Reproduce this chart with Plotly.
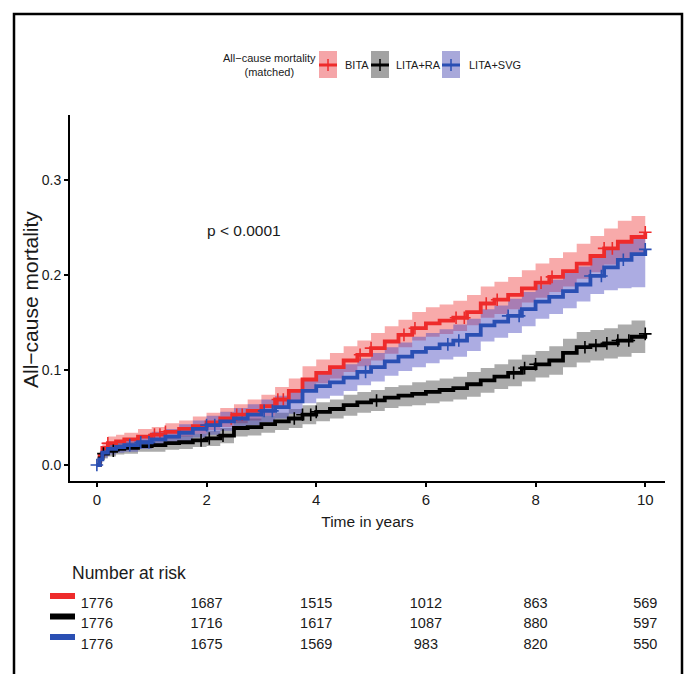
import plotly.graph_objects as go

# ---------------- data ----------------
times = [0, 0.05, 0.1, 0.2, 0.35, 0.5, 0.75, 1.0, 1.25, 1.5, 1.75, 2.0, 2.25, 2.5, 2.75,
         3.0, 3.25, 3.5, 3.75, 4.0, 4.25, 4.5, 4.75, 5.0, 5.25, 5.5, 5.75, 6.0, 6.25, 6.5,
         6.75, 7.0, 7.25, 7.5, 7.75, 8.0, 8.25, 8.5, 8.75, 9.0, 9.25, 9.5, 9.75, 10.0]

bita_est = [0, .010, .018, .023, .025, .027, .030, .032, .035, .038, .041, .045, .049, .053, .057,
            .062, .069, .078, .090, .097, .103, .110, .116, .123, .130, .137, .144, .149, .152, .155,
            .161, .170, .174, .179, .186, .192, .198, .204, .212, .220, .228, .235, .240, .245]
bita_lo = [0, .006, .013, .017, .019, .021, .023, .025, .028, .030, .033, .037, .040, .044, .047,
           .052, .059, .067, .079, .086, .091, .098, .104, .110, .117, .124, .131, .135, .138, .141,
           .147, .155, .159, .164, .171, .176, .182, .188, .196, .203, .211, .218, .223, .228]
bita_hi = [0, .014, .024, .030, .032, .034, .038, .040, .044, .047, .051, .055, .060, .064, .069,
           .074, .082, .091, .104, .111, .118, .125, .131, .139, .146, .153, .161, .166, .169, .173,
           .179, .188, .193, .198, .205, .212, .218, .224, .233, .241, .249, .257, .262, .267]

ra_est = [0, .007, .012, .015, .017, .018, .020, .021, .023, .024, .026, .028, .031, .039, .040,
          .043, .046, .049, .053, .056, .059, .063, .066, .068, .071, .073, .075, .077, .079, .081,
          .085, .089, .093, .097, .102, .106, .110, .118, .124, .126, .128, .131, .135, .138]
ra_lo = [0, .003, .007, .009, .011, .012, .014, .014, .016, .017, .019, .020, .023, .030, .031,
         .034, .037, .039, .043, .046, .049, .052, .055, .057, .060, .062, .063, .065, .067, .069,
         .072, .076, .080, .083, .088, .092, .095, .103, .108, .110, .112, .114, .118, .121]
ra_hi = [0, .011, .017, .021, .023, .024, .026, .028, .030, .031, .033, .036, .039, .048, .049,
         .052, .055, .059, .063, .066, .069, .074, .077, .079, .082, .084, .087, .089, .091, .093,
         .098, .102, .106, .111, .116, .120, .125, .133, .140, .142, .144, .148, .152, .155]

svg_est = [0, .006, .013, .017, .019, .021, .024, .027, .030, .034, .038, .042, .046, .049, .053,
           .057, .061, .067, .078, .083, .087, .092, .098, .103, .109, .114, .119, .123, .127, .131,
           .137, .147, .151, .157, .164, .172, .177, .183, .190, .199, .208, .216, .222, .227]
svg_lo = [0, .002, .008, .011, .013, .014, .017, .019, .022, .025, .029, .032, .036, .038, .042,
          .045, .049, .054, .065, .070, .073, .078, .084, .088, .094, .099, .103, .107, .111, .114,
          .120, .130, .134, .139, .146, .154, .159, .165, .172, .180, .184, .186, .187, .188]
svg_hi = [0, .010, .018, .023, .025, .028, .031, .035, .038, .043, .047, .052, .056, .060, .064,
          .069, .073, .080, .091, .096, .101, .106, .112, .118, .124, .129, .135, .139, .143, .148,
          .154, .164, .168, .175, .182, .190, .195, .202, .209, .218, .227, .236, .242, .247]

# censoring times (the "+" marks on the curves)
bita_censor = [0.2, 1.05, 1.15, 1.25, 2.45, 2.55, 2.65, 3.3, 3.4, 4.8, 5.0, 5.6, 5.8, 6.55, 6.7,
               7.1, 7.3, 8.1, 8.3, 9.25, 9.4, 10.0]
ra_censor = [0.12, 0.3, 1.9, 2.05, 2.3, 3.6, 3.75, 3.9, 4.0, 5.1, 7.6, 7.8, 8.0, 8.9, 9.1, 9.3,
             9.5, 9.7, 10.0]
svg_censor = [0.0, 0.6, 0.8, 0.95, 2.0, 2.15, 3.05, 3.2, 4.9, 6.4, 6.6, 7.5, 7.7, 9.0, 9.2,
              9.6, 10.0]

group_names = ["BITA", "LITA+RA", "LITA+SVG"]
line_colors = ["#EE2B2B", "#000000", "#2A4FB3"]
band_colors = ["rgba(238,43,43,0.40)", "rgba(0,0,0,0.33)", "rgba(70,70,190,0.45)"]
key_colors = ["#F5A5A8", "#A3A3A3", "#A8A8DA"]

risk_times = [0, 2, 4, 6, 8, 10]
risk_bita = [1776, 1687, 1515, 1012, 863, 569]
risk_ra = [1776, 1716, 1617, 1087, 880, 597]
risk_svg = [1776, 1675, 1569, 983, 820, 550]

y_ticks = [0.0, 0.1, 0.2, 0.3]
x_ticks = [0, 2, 4, 6, 8, 10]
p_text = "p < 0.0001"

# ---------------- figure ----------------
FONT = "Liberation Sans, Arial, sans-serif"
TXT = "#1a1a1a"

W, H = 684, 674
ML, MR, MT, MB = 70, 19, 115, 14
PW, PH = W - ML - MR, H - MT - MB


def px_x(px):
    return (px - ML) / PW


def px_y(py):
    return (H - MB - py) / PH


def step_value(est, t):
    """value of the step curve at time t (last estimate at or before t)"""
    idx = max(j for j, tt in enumerate(times) if tt <= t)
    return est[idx]


fig = go.Figure()

ests = [bita_est, ra_est, svg_est]
los = [bita_lo, ra_lo, svg_lo]
his = [bita_hi, ra_hi, svg_hi]
censors = [bita_censor, ra_censor, svg_censor]

for i in range(3):
    fig.add_trace(go.Scatter(x=times, y=los[i], mode="lines", line=dict(width=0, shape="hv"),
                             showlegend=False, hoverinfo="skip", xaxis="x", yaxis="y"))
    fig.add_trace(go.Scatter(x=times, y=his[i], mode="lines", line=dict(width=0, shape="hv"),
                             fill="tonexty", fillcolor=band_colors[i], showlegend=False,
                             hoverinfo="skip", xaxis="x", yaxis="y"))

for i in range(3):
    fig.add_trace(go.Scatter(x=times, y=ests[i], mode="lines", name=group_names[i],
                             line=dict(color=line_colors[i], width=3.8, shape="hv"),
                             showlegend=False, xaxis="x", yaxis="y"))
    fig.add_trace(go.Scatter(x=censors[i], y=[step_value(ests[i], t) for t in censors[i]],
                             mode="markers", showlegend=False, hoverinfo="skip",
                             marker=dict(symbol="cross-thin", size=9,
                                         line=dict(color=line_colors[i], width=1.6)),
                             xaxis="x", yaxis="y"))

# risk table
risk_rows = [risk_bita, risk_ra, risk_svg]
for i in range(3):
    fig.add_trace(go.Scatter(x=risk_times, y=[i + 1] * len(risk_times), mode="text",
                             text=[str(v) for v in risk_rows[i]], textposition="middle center",
                             textfont=dict(family=FONT, size=14.5, color=TXT),
                             showlegend=False, hoverinfo="skip", xaxis="x2", yaxis="y2"))

x_range = [-0.49, 10.36]
main_bottom = px_y(481)

fig.update_layout(
    width=W, height=H,
    margin=dict(l=ML, r=MR, t=MT, b=MB),
    paper_bgcolor="white", plot_bgcolor="white",
    showlegend=False,
    xaxis=dict(domain=[0, 1], range=x_range, showline=True, linecolor="black", linewidth=2,
               ticks="outside", ticklen=4, tickwidth=1.5, tickcolor="black",
               tickvals=x_ticks, ticktext=[str(v) for v in x_ticks],
               tickfont=dict(family=FONT, size=15, color=TXT),
               showgrid=False, zeroline=False, anchor="y",
               title=dict(text="Time in years", font=dict(family=FONT, size=15.5, color=TXT),
                          standoff=9)),
    yaxis=dict(domain=[main_bottom, 1], range=[-0.0168, 0.3684], showline=True, linecolor="black",
               linewidth=2, ticks="outside", ticklen=4, tickwidth=1.5, tickcolor="black",
               tickvals=y_ticks, ticktext=["%.1f" % v for v in y_ticks],
               tickfont=dict(family=FONT, size=14, color=TXT),
               showgrid=False, zeroline=False, anchor="x"),
    xaxis2=dict(domain=[0, 1], range=x_range, visible=False, anchor="y2"),
    yaxis2=dict(domain=[px_y(655.25), px_y(583.5)], range=[3.5, 0], visible=False, anchor="x2"),
)

# y-axis title
fig.add_annotation(x=px_x(30), y=px_y(300), xref="paper", yref="paper",
                   text="All\u2212cause mortality", textangle=-90, showarrow=False,
                   xanchor="center", yanchor="middle",
                   font=dict(family=FONT, size=21, color=TXT))

# p-value
fig.add_annotation(x=1.97, y=0.247, xref="x", yref="y", text=p_text, showarrow=False,
                   xanchor="left", yanchor="middle", font=dict(family=FONT, size=15.5, color=TXT))

# "Number at risk"
fig.add_annotation(x=0, y=px_y(573), xref="paper", yref="paper", text="Number at risk",
                   showarrow=False, xanchor="left", yanchor="middle",
                   font=dict(family=FONT, size=17.5, color=TXT))

# colored keys of risk table
for i in range(3):
    fig.add_shape(type="rect", xref="paper", yref="y2", x0=px_x(50), x1=px_x(75),
                  y0=i + 1 - 0.54, y1=i + 1 - 0.25, fillcolor=line_colors[i], line=dict(width=0))

# manual legend
fig.add_annotation(x=px_x(318), y=px_y(65), xref="paper", yref="paper",
                   text="All\u2212cause mortality<br>(matched)", showarrow=False,
                   xanchor="right", yanchor="middle", align="center",
                   font=dict(family=FONT, size=11, color=TXT))
key_x = [319, 371, 442]
label_x = [343, 394, 467]
for i in range(3):
    x0, x1 = px_x(key_x[i]), px_x(key_x[i] + 18)
    fig.add_shape(type="rect", xref="paper", yref="paper", x0=x0, x1=x1,
                  y0=px_y(78), y1=px_y(51), fillcolor=key_colors[i], line=dict(width=0))
    fig.add_shape(type="line", xref="paper", yref="paper", x0=x0, x1=x1,
                  y0=px_y(65), y1=px_y(65), line=dict(color=line_colors[i], width=3))
    xm = px_x(key_x[i] + 9)
    fig.add_shape(type="line", xref="paper", yref="paper", x0=xm, x1=xm,
                  y0=px_y(71), y1=px_y(59), line=dict(color=line_colors[i], width=1.5))
    fig.add_annotation(x=px_x(label_x[i]), y=px_y(65), xref="paper", yref="paper",
                       text=group_names[i], showarrow=False, xanchor="left", yanchor="middle",
                       font=dict(family=FONT, size=11, color=TXT))

# outer frame
fig.add_shape(type="rect", xref="paper", yref="paper", x0=px_x(14), x1=px_x(682),
              y0=px_y(700), y1=px_y(14), line=dict(color="black", width=2.5), fillcolor="rgba(0,0,0,0)")

fig.write_html("out.html", config={"displayModeBar": False},
               post_script="document.body.style.margin='0';")
